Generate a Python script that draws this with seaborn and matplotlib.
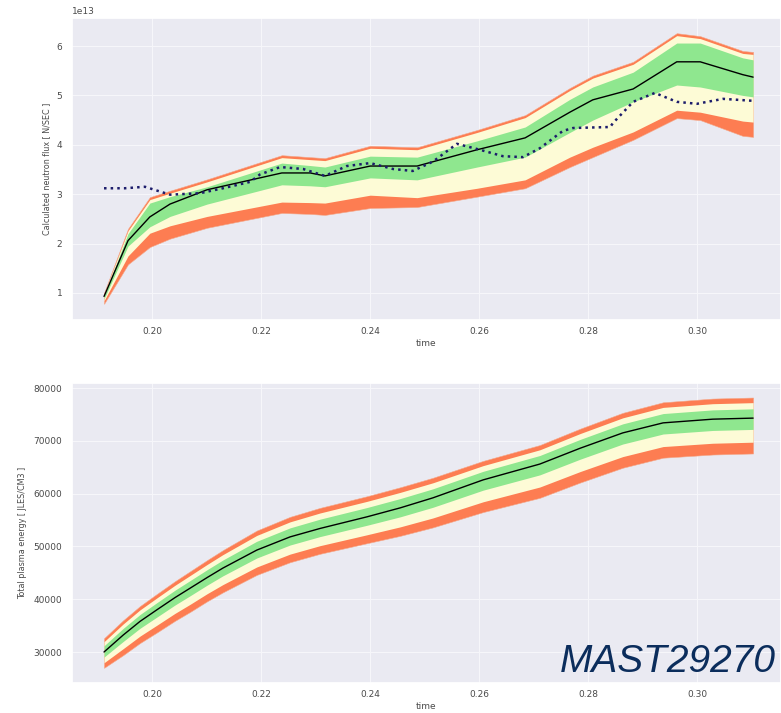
import numpy as np
import pandas as pd
import matplotlib
matplotlib.use("Agg")
import matplotlib.pyplot as plt
import seaborn as sns

# ---------------- data: neutron flux (units of 1e13 N/SEC) ----------------
flux_time = [0.1912, 0.1956, 0.1996, 0.2033, 0.2101, 0.2238, 0.2290, 0.2317, 0.2400,
             0.2486, 0.2596, 0.2684, 0.2766, 0.2808, 0.2882, 0.2962, 0.3005, 0.3083, 0.3102]
flux_median = [0.93, 2.06, 2.54, 2.80, 3.09, 3.43, 3.43, 3.37, 3.57,
               3.57, 3.90, 4.14, 4.66, 4.91, 5.13, 5.68, 5.68, 5.42, 5.37]
flux_outer_hi = [1.00, 2.30, 2.94, 3.07, 3.30, 3.79, 3.75, 3.73, 3.98,
                 3.95, 4.30, 4.60, 5.15, 5.40, 5.68, 6.26, 6.20, 5.90, 5.88]
flux_mid_hi = [0.98, 2.26, 2.89, 3.02, 3.25, 3.74, 3.70, 3.68, 3.93,
               3.90, 4.25, 4.55, 5.10, 5.35, 5.63, 6.21, 6.15, 5.85, 5.83]
flux_in_hi = [0.95, 2.20, 2.82, 2.95, 3.15, 3.63, 3.58, 3.55, 3.77,
              3.75, 4.08, 4.36, 4.92, 5.17, 5.47, 6.06, 6.06, 5.76, 5.72]
flux_in_lo = [0.88, 1.95, 2.34, 2.55, 2.80, 3.19, 3.17, 3.15, 3.33,
              3.29, 3.55, 3.75, 4.25, 4.50, 4.87, 5.21, 5.17, 5.00, 4.97]
flux_mid_lo = [0.84, 1.75, 2.21, 2.36, 2.55, 2.84, 2.83, 2.82, 2.98,
               2.93, 3.12, 3.29, 3.75, 3.95, 4.26, 4.70, 4.66, 4.48, 4.46]
flux_outer_lo = [0.78, 1.58, 1.93, 2.10, 2.32, 2.62, 2.60, 2.58, 2.72,
                 2.74, 2.95, 3.12, 3.55, 3.75, 4.10, 4.54, 4.50, 4.18, 4.16]

meas_time = [0.1912, 0.1950, 0.1987, 0.2033, 0.2088, 0.2130, 0.2180, 0.2198, 0.2235,
             0.2277, 0.2317, 0.2357, 0.2400, 0.2442, 0.2478, 0.2515, 0.2559, 0.2601,
             0.2643, 0.2680, 0.2711, 0.2753, 0.2772, 0.2840, 0.2845, 0.2882, 0.2922,
             0.2962, 0.2999, 0.3047, 0.3102]
meas_flux = [3.12, 3.12, 3.15, 2.99, 3.02, 3.12, 3.25, 3.40, 3.55,
             3.51, 3.37, 3.57, 3.63, 3.51, 3.47, 3.66, 4.02, 3.90,
             3.77, 3.75, 3.93, 4.28, 4.34, 4.36, 4.44, 4.87, 5.05,
             4.87, 4.83, 4.93, 4.89]
FLUX_SCALE = 1e13

# ---------------- data: total plasma energy ----------------
energy_time = [0.1912, 0.1947, 0.1978, 0.2009, 0.2042, 0.2070, 0.2101, 0.2130, 0.2192,
               0.2253, 0.2308, 0.2394, 0.2455, 0.2515, 0.2607, 0.2711, 0.2785, 0.2863,
               0.2937, 0.3028, 0.3102]
energy_median = [30000, 33200, 35800, 38000, 40300, 42100, 44100, 45900, 49300,
                 51800, 53400, 55600, 57300, 59200, 62600, 65600, 68600, 71500,
                 73400, 74100, 74300]
energy_outer_hi = [32600, 36000, 38700, 41000, 43400, 45300, 47400, 49300, 53000,
                   55600, 57300, 59500, 61200, 63000, 66200, 69200, 72300, 75300,
                   77300, 78000, 78200]
energy_mid_hi = [31950, 35300, 37980, 40250, 42630, 44500, 46580, 48450, 52080,
                 54650, 56330, 58530, 60230, 62050, 65300, 68300, 71380, 74350,
                 76330, 77030, 77230]
energy_in_hi = [31170, 34460, 37100, 39350, 41700, 43540, 45590, 47430, 50970,
                53510, 55160, 57360, 59060, 60910, 64220, 67220, 70270, 73210,
                75160, 75860, 76060]
energy_in_lo = [29040, 31980, 34490, 36620, 38890, 40660, 42660, 44430, 47800,
                50260, 51860, 54000, 55600, 57410, 60650, 63550, 66520, 69390,
                71290, 71960, 72160]
energy_mid_lo = [27960, 30620, 33010, 35080, 37310, 39040, 41040, 42770, 46100,
                 48540, 50140, 52200, 53700, 55390, 58450, 61250, 64180, 67010,
                 68910, 69540, 69740]
energy_outer_lo = [27000, 29400, 31700, 33700, 35900, 37600, 39600, 41300, 44600,
                   47000, 48600, 50600, 52000, 53600, 56500, 59200, 62100, 64900,
                   66800, 67400, 67600]

x_ticks = [0.20, 0.22, 0.24, 0.26, 0.28, 0.30]
flux_ticks = [1, 2, 3, 4, 5, 6]
energy_ticks = [30000, 40000, 50000, 60000, 70000, 80000]

# ---------------- style ----------------
sns.set_theme(style="darkgrid")
plt.rcParams['font.family'] = ['DejaVu Sans']
C_OUTER = "#fd7d52"
C_MID = "#fdfbd6"
C_IN = "#8fe78f"
TICK_C = "#4a4a4a"

fig = plt.figure(figsize=(7.81, 7.13), dpi=100)
ax1 = fig.add_axes([72 / 781, 1 - 320 / 713, (781 - 72) / 781, 302 / 713])
ax2 = fig.add_axes([72 / 781, 1 - 683 / 713, (781 - 72) / 781, 300 / 713])


def draw_bands(ax, t, olo, ohi, mlo, mhi, ilo, ihi, med, scale=1.0):
    t = np.asarray(t)
    s = lambda a: np.asarray(a, dtype=float) * scale
    ax.fill_between(t, s(olo), s(ohi), color=C_OUTER, lw=0.4, edgecolor="#f4a88a")
    ax.fill_between(t, s(mlo), s(mhi), color=C_MID, lw=0)
    ax.fill_between(t, s(ilo), s(ihi), color=C_IN, lw=0)
    df = pd.DataFrame({"time": t, "value": s(med)})
    sns.lineplot(data=df, x="time", y="value", ax=ax, color="black", lw=1.0)


draw_bands(ax1, flux_time, flux_outer_lo, flux_outer_hi, flux_mid_lo, flux_mid_hi,
           flux_in_lo, flux_in_hi, flux_median, FLUX_SCALE)
meas_df = pd.DataFrame({"time": meas_time, "value": np.asarray(meas_flux) * FLUX_SCALE})
sns.lineplot(data=meas_df, x="time", y="value", ax=ax1, color="#1c1c6b",
             lw=1.8, linestyle=":")

draw_bands(ax2, energy_time, energy_outer_lo, energy_outer_hi, energy_mid_lo,
           energy_mid_hi, energy_in_lo, energy_in_hi, energy_median)

for ax in (ax1, ax2):
    ax.set_xlim(0.18533, 0.31531)
    ax.set_xticks(x_ticks)
    ax.set_xticklabels([f"{v:.2f}" for v in x_ticks])
    ax.set_xlabel("time", fontsize=6.5, color=TICK_C, labelpad=2)
    ax.tick_params(axis="x", labelsize=6.5, colors=TICK_C, length=0, pad=5)
    ax.tick_params(axis="y", labelsize=6.5, colors=TICK_C, length=0, pad=7)
    ax.grid(True, color="#f6f6fa", lw=0.8)

ax1.set_ylim(0.453 * FLUX_SCALE, 6.567 * FLUX_SCALE)
ax1.set_yticks(np.asarray(flux_ticks) * FLUX_SCALE)
ax1.yaxis.get_offset_text().set_fontsize(6.5)
ax1.yaxis.get_offset_text().set_color(TICK_C)
ax1.set_ylabel("Calculated neutron flux [ N/SEC ]", fontsize=5.8, color=TICK_C, labelpad=4)

ax2.set_ylim(24130, 80950)
ax2.set_yticks(energy_ticks)
ax2.set_yticklabels([str(v) for v in energy_ticks])
ax2.set_ylabel("Total plasma energy [ JLES/CM3 ]", fontsize=5.8, color=TICK_C, labelpad=5)

fig.text(0.993, 1 - 672 / 713, "MAST29270", ha="right", va="baseline",
         fontsize=28, style="italic", color="#0b2d5c", family="Liberation Sans")

fig.savefig("out.png", dpi=100)
